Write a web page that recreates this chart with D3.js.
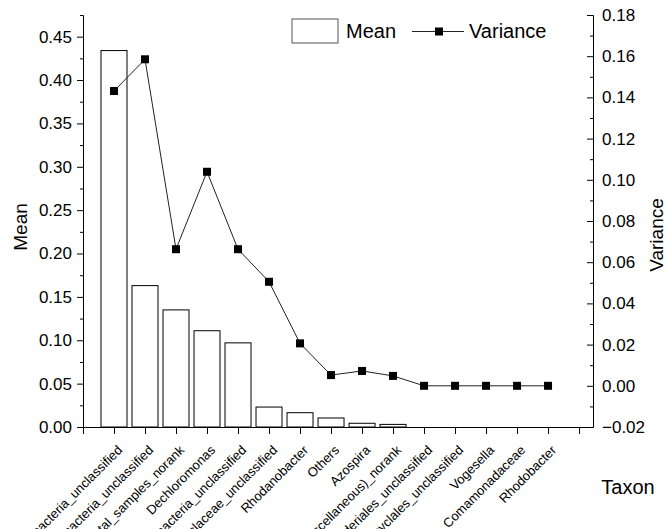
<!DOCTYPE html>
<html>
<head>
<meta charset="utf-8">
<script src="https://cdn.jsdelivr.net/npm/d3@7"></script>
<style>
  body { margin: 0; background: #fff; }
  svg { font-family: "Liberation Sans", Arial, sans-serif; }
</style>
</head>
<body>
<svg width="668" height="529"></svg>
<script>
var taxa = ["Betaproteobacteria_unclassified", "Gammaproteobacteria_unclassified", "environmental_samples_norank",
            "Dechloromonas", "Alphaproteobacteria_unclassified", "Rhodocyclaceae_unclassified", "Rhodanobacter",
            "Others", "Azospira", "Bacteria(miscellaneous)_norank", "Burkholderiales_unclassified",
            "Rhodocyclales_unclassified", "Vogesella", "Comamonadaceae", "Rhodobacter"];
var meanValues = [0.434, 0.163, 0.135, 0.111, 0.097, 0.023, 0.0165, 0.0104, 0.0043, 0.003, 0, 0, 0, 0, 0];
var varianceValues = [0.1431, 0.1585, 0.0663, 0.1039, 0.0663, 0.0505, 0.0206, 0.0052, 0.0072, 0.0048, 0, 0, 0, 0, 0];
var meanTicks = [0, 0.05, 0.10, 0.15, 0.20, 0.25, 0.30, 0.35, 0.40, 0.45];
var varianceTicks = [-0.02, 0, 0.02, 0.04, 0.06, 0.08, 0.10, 0.12, 0.14, 0.16, 0.18];

var plotLeft = 83, plotRight = 593, plotTop = 15, plotBottom = 427;

var svg = d3.select("svg");

var x = d3.scaleLinear().domain([0, 16.45]).range([plotLeft, plotRight]);
var yL = d3.scaleLinear().domain([0, 0.475]).range([plotBottom, plotTop]);
var yR = d3.scaleLinear().domain([-0.02, 0.18]).range([plotBottom, plotTop]);

// bars
svg.append("g").selectAll("rect")
  .data(meanValues)
  .enter().append("rect")
    .attr("x", function(d, i) { return x(i + 1) - 13; })
    .attr("width", 26)
    .attr("y", function(d) { return yL(d); })
    .attr("height", function(d) { return plotBottom - yL(d); })
    .attr("fill", "#fff")
    .attr("stroke", "#000")
    .attr("stroke-width", 1);

// left axis
var minorL = d3.range(0.025, 0.48, 0.05);
svg.append("g")
    .attr("transform", "translate(" + plotLeft + ",0)")
    .call(d3.axisLeft(yL).tickValues(minorL).tickSize(3).tickSizeOuter(0).tickFormat(""));
var gL = svg.append("g")
    .attr("transform", "translate(" + plotLeft + ",0)")
    .call(d3.axisLeft(yL).tickValues(meanTicks).tickSize(6).tickSizeOuter(0).tickPadding(5).tickFormat(d3.format(".2f")));
gL.selectAll("text").style("font-size", "17px");

// right axis, ticks pointing inward
var minorR = d3.range(-0.01, 0.18, 0.02);
svg.append("g")
    .attr("transform", "translate(" + plotRight + ",0)")
    .call(d3.axisLeft(yR).tickValues(minorR).tickSize(3).tickSizeOuter(0).tickFormat(""));
var gR = svg.append("g")
    .attr("transform", "translate(" + plotRight + ",0)")
    .call(d3.axisLeft(yR).tickValues(varianceTicks).tickSize(6).tickSizeOuter(0).tickFormat(d3.format(".2f")));
gR.selectAll("text")
    .attr("x", 9)
    .attr("text-anchor", "start")
    .style("font-size", "17px");

// bottom axis
svg.append("g")
    .attr("transform", "translate(0," + plotBottom + ")")
    .call(d3.axisBottom(x).tickValues(d3.range(0, 17)).tickSize(7).tickSizeOuter(0).tickFormat(""));

svg.selectAll(".domain, .tick line").attr("stroke", "#000");

svg.append("g").selectAll("text")
  .data(taxa)
  .enter().append("text")
    .attr("transform", function(d, i) { return "translate(" + (x(i + 1) + 9) + "," + (plotBottom + 24) + ") rotate(-45)"; })
    .attr("text-anchor", "end")
    .style("font-size", "13px")
    .text(function(d) { return d; });

// variance line
var line = d3.line()
    .x(function(d, i) { return x(i + 1); })
    .y(function(d) { return yR(d); });

svg.append("path")
    .datum(varianceValues)
    .attr("d", line)
    .attr("fill", "none")
    .attr("stroke", "#222")
    .attr("stroke-width", 1);

svg.append("g").selectAll("rect")
  .data(varianceValues)
  .enter().append("rect")
    .attr("x", function(d, i) { return x(i + 1) - 4; })
    .attr("y", function(d) { return yR(d) - 4; })
    .attr("width", 8)
    .attr("height", 8)
    .attr("fill", "#000");

// axis titles
svg.append("text")
    .attr("transform", "translate(27," + ((plotTop + plotBottom) / 2 + 6) + ") rotate(-90)")
    .attr("text-anchor", "middle")
    .style("font-size", "19px")
    .text("Mean");

svg.append("text")
    .attr("transform", "translate(663," + ((plotTop + plotBottom) / 2 + 14) + ") rotate(-90)")
    .attr("text-anchor", "middle")
    .style("font-size", "19px")
    .text("Variance");

svg.append("text")
    .attr("x", 628)
    .attr("y", 494)
    .attr("text-anchor", "middle")
    .style("font-size", "20px")
    .text("Taxon");

// legend
var lg = svg.append("g");
lg.append("rect")
    .attr("x", 292).attr("y", 19).attr("width", 46).attr("height", 24)
    .attr("fill", "#fff").attr("stroke", "#555").attr("stroke-width", 1);
lg.append("text").attr("x", 346).attr("y", 38).style("font-size", "20px").text("Mean");
lg.append("line")
    .attr("x1", 412).attr("x2", 464).attr("y1", 31.5).attr("y2", 31.5)
    .attr("stroke", "#222").attr("stroke-width", 1);
lg.append("rect").attr("x", 435).attr("y", 27.5).attr("width", 8).attr("height", 8).attr("fill", "#000");
lg.append("text").attr("x", 469).attr("y", 38).style("font-size", "20px").text("Variance");
</script>
</body>
</html>
